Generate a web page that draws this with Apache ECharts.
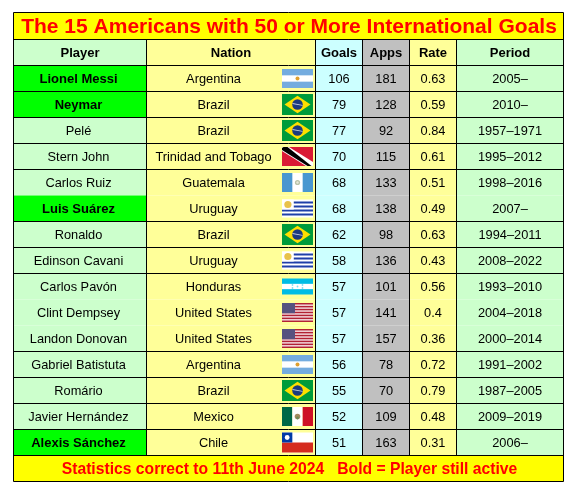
<!DOCTYPE html>
<html><head><meta charset="utf-8">
<style>html,body{margin:0;padding:0;background:#fff}#c{width:577px;height:494px}</style>
<script src="https://cdn.jsdelivr.net/npm/echarts@6/dist/echarts.min.js"></script>
</head><body><div id="c"></div>
<script>
// ---- data ----
const titleText = 'The 15 Americans with 50 or More International Goals';
const footerText = 'Statistics correct to 11th June 2024   Bold = Player still active';
const headers = ['Player','Nation','Goals','Apps','Rate','Period'];
const players = ['Lionel Messi','Neymar','Pelé','Stern John','Carlos Ruiz','Luis Suárez','Ronaldo','Edinson Cavani','Carlos Pavón','Clint Dempsey','Landon Donovan','Gabriel Batistuta','Romário','Javier Hernández','Alexis Sánchez'];
const nations = ['Argentina','Brazil','Brazil','Trinidad and Tobago','Guatemala','Uruguay','Brazil','Uruguay','Honduras','United States','United States','Argentina','Brazil','Mexico','Chile'];
const goals = [106,79,77,70,68,68,62,58,57,57,57,56,55,52,51];
const apps = [181,128,92,115,133,138,98,136,101,141,157,78,70,109,163];
const rates = [0.63,0.59,0.84,0.61,0.51,0.49,0.63,0.43,0.56,0.4,0.36,0.72,0.79,0.48,0.31];
const periods = ['2005–','2010–','1957–1971','1995–2012','1998–2016','2007–','1994–2011','2008–2022','1993–2010','2004–2018','2000–2014','1991–2002','1987–2005','2009–2019','2006–'];
const active = [true,true,false,false,false,true,false,false,false,false,false,false,false,false,true];

// ---- layout (axis units are px wide) ----
const colEdges = [0,133,302,349,396,443,550];
const colCentres = [65,200,325.5,372.5,419.5,496.5];
const titleH = 27, rowH = 26, totalH = 469, textDy = 0.8;
const flagX = 268.5, flagW = 31;
const flagH = {Argentina:19,Brazil:21,'Trinidad and Tobago':19,Guatemala:19,Uruguay:18,Honduras:16,'United States':19,Mexico:19,Chile:20};
const font = '12.8px "Liberation Sans", Arial, sans-serif';
const fontB = 'bold 13px "Liberation Sans", Arial, sans-serif';
const colFill = ['#CCFFCC','#FFFF99','#CCFFFF','#C0C0C0','#FFFF99','#CCFFCC'];
const headerY = titleH, bodyY = titleH + rowH;

const R=(x,y,w,h,fill)=>({type:'rect',shape:{x,y,width:w,height:h},style:{fill}});
const C=(cx,cy,r,fill)=>({type:'circle',shape:{cx,cy,r},style:{fill}});
const P=(points,fill)=>({type:'polygon',shape:{points},style:{fill}});

function flagShapes(n,W,H){
  const s=[];
  if(n==='Argentina'){
    s.push(R(0,0,W,H,'#74ACDF'),R(0,H/3,W,H/3,'#FFFFFF'),C(W/2,H/2,2,'#E0A030'));
  } else if(n==='Brazil'){
    s.push(R(0,0,W,H,'#009B3A'),P([[W/2,1.8],[W-2.5,H/2],[W/2,H-1.8],[2.5,H/2]],'#FEDF00'),C(W/2,H/2,5.3,'#1C3A7E'),
      P([[W/2-5,H/2-1.5],[W/2+5,H/2+0.5],[W/2+5,H/2+1.3],[W/2-5,H/2-0.6]],'#C8D0E0'));
  } else if(n==='Trinidad and Tobago'){
    s.push(R(0,0,W,H,'#DA1A35'),P([[0,0],[7,0],[W,H-4],[W,H],[W-7,H],[0,4]],'#FFFFFF'),P([[1.5,0],[5.5,0],[W-1.5,H],[W-5.5,H],[0,3],[0,1]],'#000000'));
  } else if(n==='Guatemala'){
    s.push(R(0,0,W,H,'#4997D0'),R(W/3,0,W/3,H,'#FFFFFF'),C(W/2,H/2,2.6,'#B9C3A8'),C(W/2,H/2,1.2,'#E8E8D8'));
  } else if(n==='Uruguay'){
    s.push(R(0,0,W,H,'#FFFFFF'));
    for(let i=1;i<9;i+=2) s.push(R(0,i*H/9,W,H/9,'#1F3FA8'));
    s.push(R(0,0,W*0.38,H*5/9,'#FFFFFF'),C(W*0.19,H*5/18,3.6,'#E8C24A'));
  } else if(n==='Honduras'){
    s.push(R(0,0,W,H,'#00BCE4'),R(0,H/3,W,H/3,'#FFFFFF'));
    [[W/2,H/2],[W/2-5,H/2-1.5],[W/2+5,H/2-1.5],[W/2-5,H/2+1.5],[W/2+5,H/2+1.5]].forEach(p=>s.push(C(p[0],p[1],0.9,'#7FDDF1')));
  } else if(n==='United States'){
    s.push(R(0,0,W,H,'#F4DCE0'));
    for(let i=0;i<13;i+=2) s.push(R(0,i*H/13,W,H/13,'#B22234'));
    s.push(R(0,0,W*0.42,H*7/13,'#56527F'));
  } else if(n==='Mexico'){
    s.push(R(0,0,W/3,H,'#006847'),R(W/3,0,W/3,H,'#FFFFFF'),R(W*2/3,0,W/3,H,'#CE1126'),C(W/2,H/2,2.8,'#A58A60'),C(W/2,H/2+1.5,1.4,'#6F8A55'));
  } else if(n==='Chile'){
    s.push(R(0,0,W,H,'#FFFFFF'),R(0,H/2,W,H/2,'#D52B1E'),R(0,0,W/3,H/2,'#0039A6'),C(W/6,H/4,2.4,'#FFFFFF'));
  }
  return s;
}

function textEl(api,xv,yv,text,f,fill){
  const p=api.coord([xv,yv]);
  return {type:'text',style:{x:p[0],y:p[1],text:String(text),font:f,fill:fill||'#000',align:'center',verticalAlign:'middle'}};
}
function box(api,x0,y0,x1,y1,fill){
  const a=api.coord([x0,y0]),b=api.coord([x1,y1]);
  return {type:'rect',shape:{x:a[0],y:a[1],width:b[0]-a[0],height:b[1]-a[1]},style:{fill}};
}
function hline(api,x0,x1,y){
  const a=api.coord([x0,y]),b=api.coord([x1,y]);
  return {type:'line',shape:{x1:a[0],y1:a[1],x2:b[0],y2:b[1]},style:{stroke:'#000',lineWidth:1}};
}
function vline(api,x,y0,y1){
  const a=api.coord([x,y0]),b=api.coord([x,y1]);
  return {type:'line',shape:{x1:a[0],y1:a[1],x2:b[0],y2:b[1]},style:{stroke:'#000',lineWidth:1}};
}
const W = colEdges[colEdges.length-1];

function renderFrame(params,api){
  const ch=[];
  ch.push(box(api,0,0,W,titleH,'#FFFF00'));
  ch.push(textEl(api,W/2+0.5,titleH/2+1.5,titleText,'bold 21px "Liberation Sans", Arial, sans-serif','#FF0000'));
  headers.forEach((h,c)=>{
    ch.push(box(api,colEdges[c],headerY,colEdges[c+1],bodyY,colFill[c]));
    ch.push(textEl(api,(colEdges[c]+colEdges[c+1])/2,headerY+rowH/2+textDy,h,fontB));
  });
  const fy=bodyY+rowH*players.length;
  ch.push(box(api,0,fy,W,fy+rowH,'#FFFF00'));
  ch.push(textEl(api,W/2+1,fy+rowH/2+textDy,footerText,'bold 15.7px "Liberation Sans", Arial, sans-serif','#FF0000'));
  return {type:'group',children:ch};
}
function renderRow(params,api){
  const i=params.dataIndex, y0=bodyY+rowH*i, y1=y0+rowH, ym=(y0+y1)/2, ch=[];
  colFill.forEach((f,c)=>{
    ch.push(box(api,colEdges[c],y0,colEdges[c+1],y1,(c===0&&active[i])?'#00FF00':f));
  });
  const vals=[players[i],nations[i],goals[i],apps[i],rates[i],periods[i]];
  vals.forEach((v,c)=>ch.push(textEl(api,colCentres[c],ym+textDy,v,(c===0&&active[i])?fontB:font)));
  const h=flagH[nations[i]], o=api.coord([flagX,ym-h/2]);
  ch.push({type:'group',x:o[0],y:o[1],children:flagShapes(nations[i],flagW,h)});
  return {type:'group',children:ch};
}
function renderLines(params,api){
  const ch=[];
  colEdges.forEach((x,c)=>{
    if(c===0||c===colEdges.length-1) ch.push(vline(api,x,0,totalH));
    else ch.push(vline(api,x,titleH,totalH-rowH));
  });
  ch.push(hline(api,0,W,0),hline(api,0,W,titleH),hline(api,0,W,bodyY),hline(api,0,W,totalH));
  goals.forEach((g,i)=>{
    // tied players share a block: no rule between equal goal counts
    if(i===goals.length-1||goals[i+1]!==g) ch.push(hline(api,0,W,bodyY+rowH*(i+1)));
  });
  return {type:'group',children:ch};
}

const chart=echarts.init(document.getElementById('c'),null,{renderer:'canvas'});
chart.setOption({
  animation:false,
  backgroundColor:'#FFFFFF',
  tooltip:{show:false},
  grid:{left:13.5,top:12.5,width:W,height:totalH,containLabel:false},
  xAxis:{type:'value',min:0,max:W,show:false},
  yAxis:{type:'value',min:0,max:totalH,inverse:true,show:false},
  series:[
    {type:'custom',coordinateSystem:'cartesian2d',clip:false,z:1,silent:true,renderItem:renderFrame,data:[[0,0]]},
    {type:'custom',coordinateSystem:'cartesian2d',clip:false,z:2,silent:true,renderItem:renderRow,
      data:players.map((p,i)=>({name:p,value:[0,bodyY+rowH*i]}))},
    {type:'custom',coordinateSystem:'cartesian2d',clip:false,z:3,silent:true,renderItem:renderLines,data:[[0,0]]}
  ]
});
</script></body></html>
